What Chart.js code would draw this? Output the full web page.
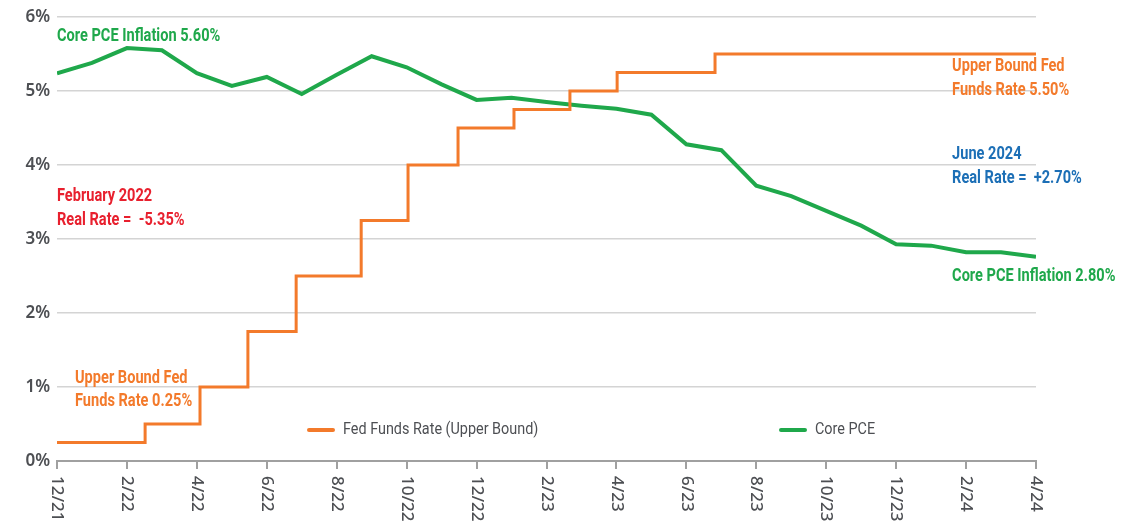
<!DOCTYPE html>
<html>
<head>
<meta charset="utf-8">
<script src="https://cdn.jsdelivr.net/npm/chart.js@4"></script>
<style>
  html, body { margin: 0; padding: 0; background: #fff; }
  #wrap { width: 1142px; height: 526px; }
</style>
</head>
<body>
<div id="wrap"><canvas id="myChart"></canvas></div>
<script>
// x axis runs in months, 0 = "12/21" tick, 28 = "4/24" tick
const tickLabels = ['12/21', '2/22', '4/22', '6/22', '8/22', '10/22', '12/22',
  '2/23', '4/23', '6/23', '8/23', '10/23', '12/23', '2/24', '4/24'];
const yTicks = [0, 1, 2, 3, 4, 5, 6];

// monthly core PCE, one value per month from 0 to 28
const corePce = [5.24, 5.38, 5.58, 5.55, 5.24, 5.07, 5.19, 4.96, 5.22, 5.47,
  5.32, 5.09, 4.88, 4.91, 4.85, 4.80, 4.76, 4.68, 4.28, 4.20, 3.72, 3.58,
  3.38, 3.18, 2.93, 2.91, 2.82, 2.82, 2.76];

// fed funds upper bound: month position of each change and new rate
const fedDates = [0, 2.52, 4.09, 5.46, 6.84, 8.70, 10.04, 11.47, 13.07, 14.67, 16.02, 18.82, 28];
const fedRates = [0.25, 0.5, 1.0, 1.75, 2.5, 3.25, 4.0, 4.5, 4.75, 5.0, 5.25, 5.5, 5.5];

const ORANGE = '#f37a2b';
const GREEN = '#1fa84b';
const RED = '#e8202e';
const BLUE = '#1c6fb6';
const GREY = '#4d4f53';

const notes = [
  { x: 0, y: 5.74, dx: 0, lines: ['Core PCE Inflation 5.60%'], color: GREEN },
  { x: 0, y: 3.57, dx: 0, lines: ['February 2022', 'Real Rate =  -5.35%'], color: RED },
  { x: 0, y: 1.12, dx: 18, lines: ['Upper Bound Fed', 'Funds Rate 0.25%'], color: ORANGE },
  { x: 25.6, y: 5.33, dx: 0, lines: ['Upper Bound Fed', 'Funds Rate 5.50%'], color: ORANGE },
  { x: 25.6, y: 4.14, dx: 0, lines: ['June 2024', 'Real Rate =  +2.70%'], color: BLUE },
  { x: 25.6, y: 2.5, dx: 0, lines: ['Core PCE Inflation 2.80%'], color: GREEN },
];

// squeezed text, the original uses a condensed face
function narrowText(ctx, t, x, y, sx) {
  ctx.save();
  ctx.translate(x, y);
  ctx.scale(sx, 1);
  ctx.fillText(t, 0, 0);
  ctx.restore();
}

const drawExtras = {
  id: 'drawExtras',
  afterDraw(chart) {
    const ctx = chart.ctx;
    const xs = chart.scales.x, ys = chart.scales.y;
    ctx.save();

    // y tick labels
    ctx.fillStyle = GREY;
    ctx.font = '600 17px "Noto Sans", sans-serif';
    ctx.textAlign = 'right';
    ctx.textBaseline = 'middle';
    yTicks.forEach(v => ctx.fillText(v + '%', xs.left - 7, ys.getPixelForValue(v)));

    // x tick labels, rotated clockwise
    ctx.font = '500 17px "Noto Sans", sans-serif';
    ctx.textAlign = 'left';
    tickLabels.forEach((lab, i) => {
      ctx.save();
      ctx.translate(xs.getPixelForValue(i * 2), ys.bottom + 15);
      ctx.rotate(Math.PI / 2);
      ctx.fillText(lab, 0, 0);
      ctx.restore();
    });

    // annotations
    ctx.font = 'bold 18px Roboto, sans-serif';
    notes.forEach(n => {
      ctx.fillStyle = n.color;
      const px = xs.getPixelForValue(n.x) + n.dx;
      const py = ys.getPixelForValue(n.y);
      n.lines.forEach((t, i) => narrowText(ctx, t, px, py + i * 23.5, 0.81));
    });

    // legend
    ctx.font = '16px Roboto, sans-serif';
    ctx.lineWidth = 4;
    ctx.lineCap = 'round';
    const ly = ys.getPixelForValue(0.42);
    const items = [[309, 0], [781, 1]];
    items.forEach(([lx, di]) => {
      const ds = chart.data.datasets[di];
      ctx.strokeStyle = ds.borderColor;
      ctx.beginPath();
      ctx.moveTo(lx, ly);
      ctx.lineTo(lx + 24, ly);
      ctx.stroke();
      ctx.fillStyle = GREY;
      narrowText(ctx, ds.label, lx + 34, ly, 0.9);
    });
    ctx.restore();
  }
};

const ctx = document.getElementById('myChart').getContext('2d');
// eslint-disable-next-line no-unused-vars,no-undef
const chart = new Chart(ctx, {
  type: 'line',
  data: {
    datasets: [{
      label: 'Fed Funds Rate (Upper Bound)',
      data: fedDates.map((d, i) => ({ x: d, y: fedRates[i] })),
      borderColor: ORANGE,
      borderWidth: 3,
      stepped: 'before',
      pointRadius: 0,
    },
    {
      label: 'Core PCE',
      data: corePce.map((v, i) => ({ x: i, y: v })),
      borderColor: GREEN,
      borderWidth: 4,
      tension: 0,
      pointRadius: 0,
    }]
  },
  options: {
    responsive: true,
    maintainAspectRatio: false,
    animation: false,
    layout: { padding: { top: 17, right: 106, left: 0, bottom: 0 } },
    plugins: { legend: { display: false }, tooltip: { enabled: false } },
    scales: {
      x: {
        type: 'linear',
        min: 0,
        max: 28,
        ticks: { display: false, stepSize: 2 },
        grid: { drawOnChartArea: false, drawTicks: true, tickLength: 8, color: '#a0a0a0', lineWidth: 2 },
        border: { display: true, color: '#a0a0a0', width: 2 },
        afterFit(s) { s.height = 65; }
      },
      y: {
        min: 0,
        max: 6,
        ticks: { display: false, stepSize: 1 },
        grid: { color: '#d4d4d4', lineWidth: 1.5, drawTicks: false },
        border: { display: false },
        afterFit(s) { s.width = 57; }
      }
    }
  },
  plugins: [drawExtras]
});
</script>
</body>
</html>
